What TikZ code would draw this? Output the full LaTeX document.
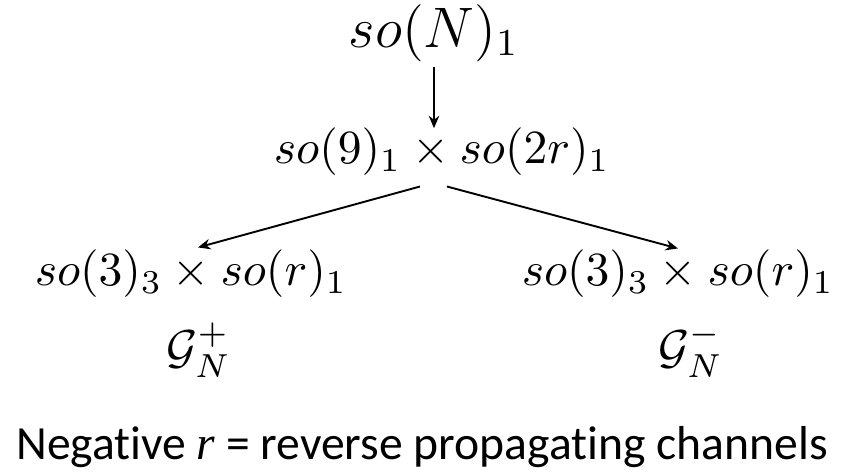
\documentclass[tikz,border=0pt]{standalone}
\usepackage{amsmath,amssymb}
\usepackage{fontspec}
\setsansfont{Carlito}[Ligatures=NoCommon]
\newfontfamily\varfont{Liberation Serif}
\usepackage{tikz}
\usetikzlibrary{
  arrows.meta,
  positioning,
  calc
}

\begin{document}
\begin{tikzpicture}[x=0.21pt,y=-0.21pt,
  alg/.style={inner sep=1pt},
  flow/.style={-{Stealth[length=2.6pt,width=2.2pt]},line width=0.4pt}]
\useasboundingbox (0,0) rectangle (842,473);

\node[alg,font=\fontsize{11.5}{14}\selectfont] (top) at (434,33) {$so(N)_1$};
\node[alg] (mid) at (442,152) {$so(9)_1\times so(2r)_1$};
\node[alg] (left) at (191,274) {$so(3)_3\times so(r)_1$};
\node[alg] (right) at (678,274) {$so(3)_3\times so(r)_1$};
\node (gplus) at (199,350) {$\mathcal{G}_N^+$};
\node (gminus) at (691,350) {$\mathcal{G}_N^-$};

\draw[flow,shorten >=-1.2pt] (top) -- (top |- mid.north);
\draw[flow] ($(mid.south)+(-22,5)$) -- ($(left.north)+(7,3)$);
\draw[flow] ($(mid.south)+(5,5)$) -- ($(right.north)+(0,4)$);

\node[anchor=base,font=\sffamily\fontsize{10}{12}\selectfont] (note) at (422,460)
  {Negative {\varfont\itshape r} = reverse propagating channels};

\end{tikzpicture}
\end{document}
